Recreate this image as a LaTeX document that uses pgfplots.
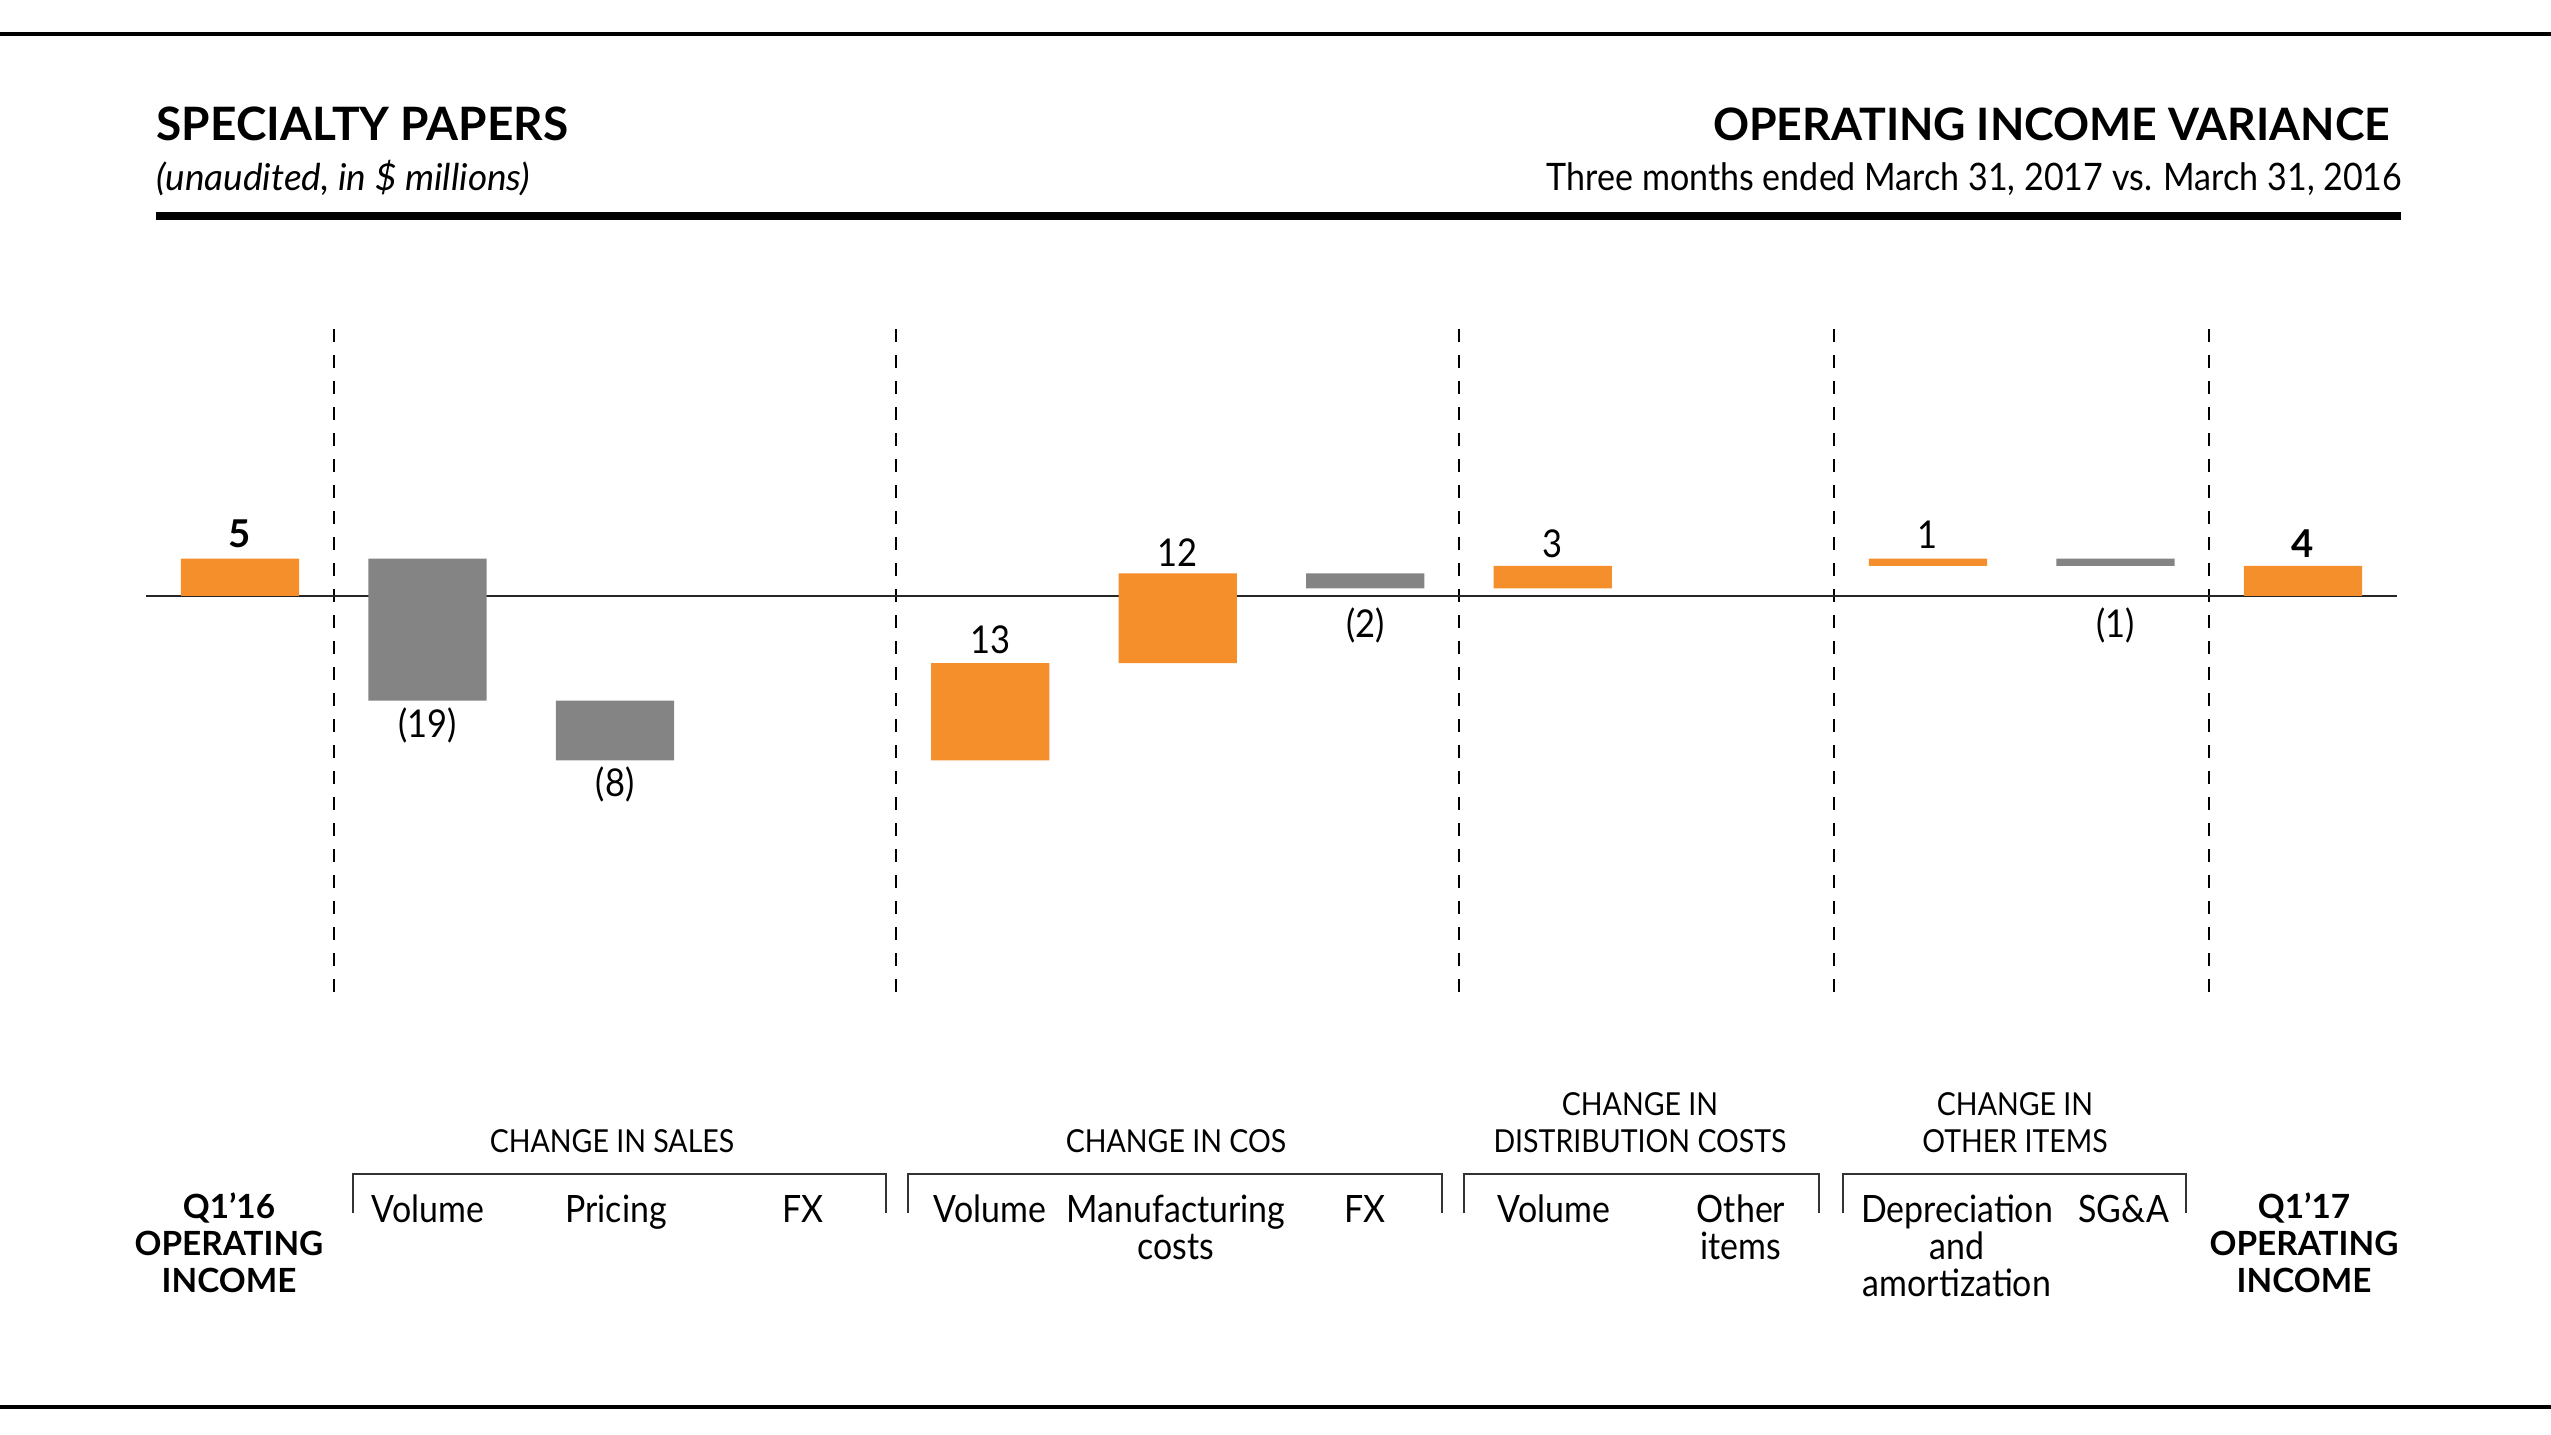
\documentclass[border=0pt]{standalone}
\usepackage{pgfplots}
\pgfplotsset{compat=1.18}
\usepackage{fontspec}
\setmainfont{Lato}
\newfontfamily\nf{Lato}[FakeStretch=0.9]
\definecolor{dorange}{HTML}{F48F2B}
\definecolor{dgray}{HTML}{848484}
\newcommand{\fs}[1]{\fontsize{#1}{#1}\selectfont}
\begin{document}
\begin{tikzpicture}[x=0.3pt,y=-0.3pt]
\useasboundingbox (0,0) rectangle (2551,1434);
% rules
\fill (0,32) rectangle (2551,36);
\fill (0,1405) rectangle (2551,1409);
\fill (156,212) rectangle (2401,220);
% header
\node[anchor=base west, inner sep=0, font=\bfseries\fs{13.8}] at (156,140) {SPECIALTY PAPERS};
\node[anchor=base west, inner sep=0, font=\itshape\fs{11.1}] at (156,190) {(unaudited, in \$ millions)};
\node[anchor=base east, inner sep=0, font=\bfseries\fs{13.4}] at (2391,140) {OPERATING INCOME VARIANCE};
\node[anchor=base east, inner sep=0, font=\nf\fs{11.35}] at (2403,190) {Three months ended March 31, 2017 vs. March 31, 2016};

\begin{axis}[at={(43.86pt,-300.3pt)}, anchor=south west, scale only axis,
  width=675.18pt, height=201.6pt, xmin=-0.5, xmax=11.5, ymin=-54.2, ymax=35.7,
  hide axis, clip=false, ybar stacked, stack negative=on previous, bar width=0.63]
\addplot[draw=none, fill=none] coordinates {(0,0) (1,5) (2,-14) (3,0) (4,-22) (5,-9) (6,3) (7,1) (8,0) (9,4) (10,5) (11,0)};
\addplot[draw=none, fill=dorange] coordinates {(0,5) (1,0) (2,0) (3,0) (4,13) (5,12) (6,0) (7,3) (8,0) (9,1) (10,0) (11,4)};
\addplot[draw=none, fill=dgray] coordinates {(0,0) (1,-19) (2,-8) (3,0) (4,0) (5,0) (6,-2) (7,0) (8,0) (9,0) (10,-1) (11,0)};
\draw[line width=0.6pt, black!85] (axis cs:-0.5,0) -- (axis cs:11.5,0);
\pgfplotsinvokeforeach{0.5,3.5,6.5,8.5,10.5}{
  \draw[line width=0.6pt, dash pattern=on 3.9pt off 3.9pt] (axis cs:#1,35.7) -- (axis cs:#1,-54.2);
}
\node[anchor=base, inner sep=0, font=\bfseries\fs{11.5}] at (axis cs:0,6.43) {5};
\node[anchor=base, inner sep=0, font=\nf\fs{11.5}] at (axis cs:1,-18.9) {(19)};
\node[anchor=base, inner sep=0, font=\nf\fs{11.5}] at (axis cs:2,-26.9) {(8)};
\node[anchor=base, inner sep=0, font=\nf\fs{11.5}] at (axis cs:4,-7.76) {13};
\node[anchor=base, inner sep=0, font=\nf\fs{11.5}] at (axis cs:5,3.88) {12};
\node[anchor=base, inner sep=0, font=\nf\fs{11.5}] at (axis cs:6,-5.6) {(2)};
\node[anchor=base, inner sep=0, font=\nf\fs{11.5}] at (axis cs:7,5.09) {3};
\node[anchor=base, inner sep=0, font=\nf\fs{11.5}] at (axis cs:9,6.29) {1};
\node[anchor=base, inner sep=0, font=\nf\fs{11.5}] at (axis cs:10,-5.6) {(1)};
\node[anchor=base, inner sep=0, font=\bfseries\fs{11.5}] at (axis cs:11,5.09) {4};
\end{axis}

% brackets
\foreach \a/\b in {353/886, 908/1442, 1464/1819, 1843/2186} {
  \draw[line width=0.45pt, black!80] (\a,1213) -- (\a,1174) -- (\b,1174) -- (\b,1213);
}
% group titles
\tikzset{gt/.style={anchor=base, inner sep=0, font=\nf\fs{9.5}}}
\node[gt] at (612,1152) {CHANGE IN SALES};
\node[gt] at (1176,1152) {CHANGE IN COS};
\node[gt] at (1640,1115) {CHANGE IN};
\node[gt] at (1640,1152) {DISTRIBUTION COSTS};
\node[gt] at (2015,1115) {CHANGE IN};
\node[gt] at (2015,1152) {OTHER ITEMS};
% item labels
\tikzset{il/.style={anchor=base, inner sep=0, font=\nf\fs{11.3}}}
\node[il] at (428,1222) {Volume};
\node[il] at (616,1222) {Pricing};
\node[il] at (803,1222) {FX};
\node[il] at (990,1222) {Volume};
\node[il] at (1176,1222) {Manufacturing};
\node[il] at (1176,1259) {costs};
\node[il] at (1365,1222) {FX};
\node[il] at (1554,1222) {Volume};
\node[il] at (1741,1222) {Other};
\node[il] at (1741,1259) {items};
\node[il] at (1957,1222) {Depreciation};
\node[il] at (1957,1259) {and};
\node[il] at (1957,1296) {amortization};
\node[il] at (2124,1222) {SG\&A};
% endpoints
\tikzset{bl/.style={anchor=base, inner sep=0, font=\bfseries\fs{10}}}
\node[bl] at (229,1218) {Q1’16};
\node[bl] at (229,1255) {OPERATING};
\node[bl] at (229,1292) {INCOME};
\node[bl] at (2304,1218) {Q1’17};
\node[bl] at (2304,1255) {OPERATING};
\node[bl] at (2304,1292) {INCOME};
\end{tikzpicture}
\end{document}
